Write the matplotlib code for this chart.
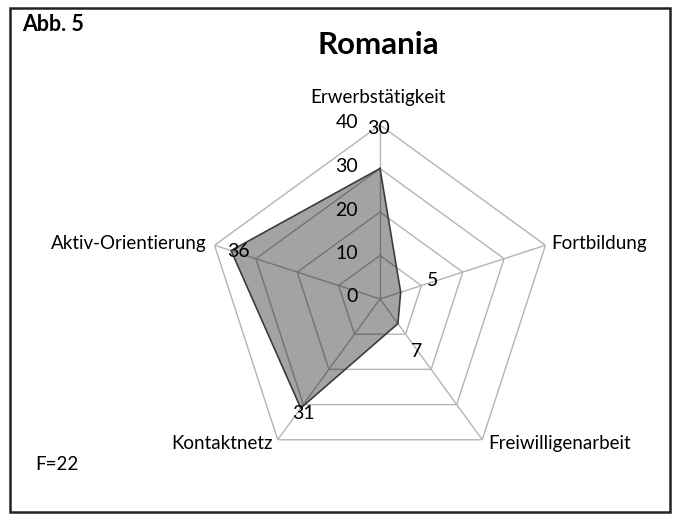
import numpy as np
import matplotlib.pyplot as plt
from matplotlib.patches import Rectangle

plt.rcParams['font.family'] = ['Lato', 'DejaVu Sans']

# data
categories = ["Erwerbstätigkeit", "Fortbildung", "Freiwilligenarbeit", "Kontaktnetz", "Aktiv-Orientierung"]
values = [30, 5, 7, 31, 36]
ring_ticks = [0, 10, 20, 30, 40]

# label placement (pixel offsets copied from the original chart)
value_offsets = [(-2, 40), (32, 12), (19, -28), (3, -5), (7, -1)]
cat_offsets = [(-2, 27, 'center'), (6, 2, 'left'), (6, -4, 'left'), (-5, -4, 'right'), (-8, 2, 'right')]

fig = plt.figure(figsize=(6.78, 5.20), dpi=100)
ax = fig.add_axes([206 / 678, 47 / 520, 348 / 678, 348 / 520], projection='polar')
ax.set_theta_zero_location('N')
ax.set_theta_direction(-1)
ax.set_ylim(0, 40)
ax.grid(False)
ax.set_xticks([])
ax.set_yticks([])
ax.spines['polar'].set_visible(False)
ax.patch.set_alpha(0)

n = len(categories)
angles = np.linspace(0, 2 * np.pi, n, endpoint=False)
closed = np.append(angles, angles[0])

# pentagon grid
grid_col = '#b4b4b4'
for r in ring_ticks[1:]:
    ax.plot(closed, [r] * (n + 1), color=grid_col, lw=1, zorder=1)
for a in angles:
    ax.plot([a, a], [0, 40], color=grid_col, lw=1, zorder=1)

# data area
vals = values + values[:1]
ax.fill(closed, vals, color='black', alpha=0.36, lw=0, zorder=2)
ax.plot(closed, vals, color='#3c3c3c', lw=1.2, zorder=3)

# ring tick labels
for r in ring_ticks:
    ax.annotate(str(r), xy=(0, r), xytext=(-22, 2), textcoords='offset pixels',
                ha='right', va='center', fontsize=14)

# value labels
for a, v, (dx, dy) in zip(angles, values, value_offsets):
    ax.annotate(str(v), xy=(a, v), xytext=(dx, dy), textcoords='offset pixels',
                ha='center', va='center', fontsize=14)

# category labels
for a, c, (dx, dy, ha) in zip(angles, categories, cat_offsets):
    ax.annotate(c, xy=(a, 40), xytext=(dx, dy), textcoords='offset pixels',
                ha=ha, va='center', fontsize=13.5, annotation_clip=False)

fig.text(378 / 678, 1 - 45 / 520, "Romania", ha='center', va='center', fontsize=22.5, fontweight='bold')
fig.text(22 / 678, 1 - 24 / 520, "Abb. 5", ha='left', va='center', fontsize=15.5, fontweight='bold')
fig.text(35 / 678, 1 - 465 / 520, "F=22", ha='left', va='center', fontsize=13.5)

# frame around the whole picture
fig.patches.append(Rectangle((10 / 678, 8 / 520), 660 / 678, 504 / 520, transform=fig.transFigure,
                             fill=False, edgecolor='#222222', lw=1.8))

fig.savefig("out.png", dpi=100)
